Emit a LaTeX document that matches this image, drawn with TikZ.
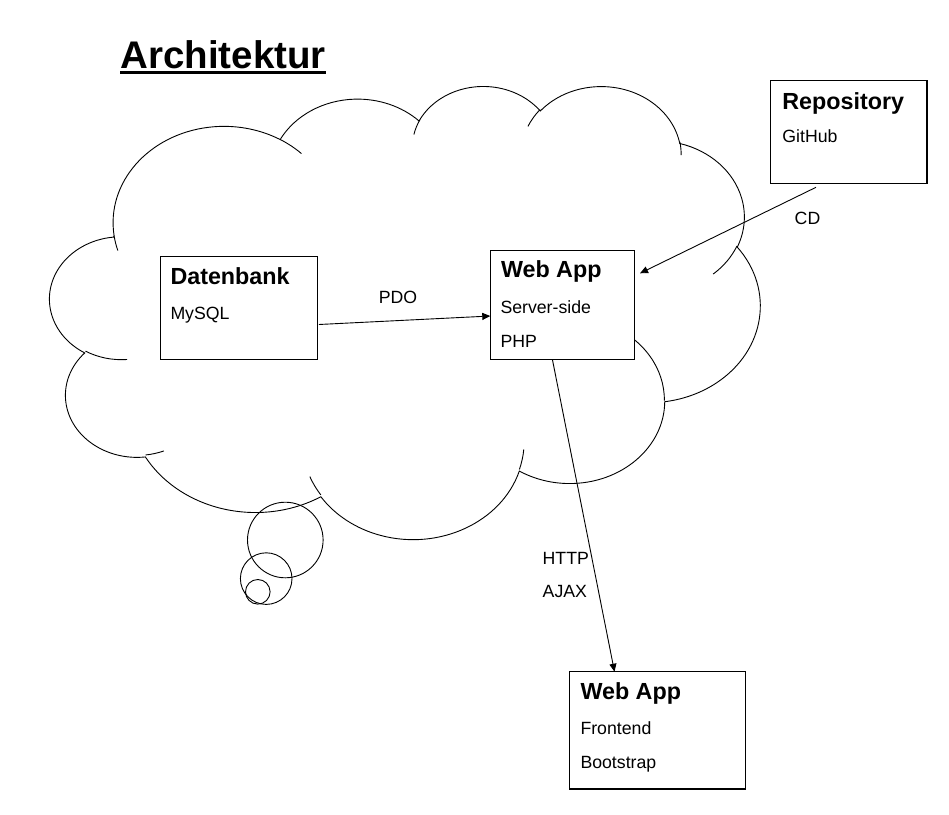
\documentclass[tikz,border=0pt]{standalone}
\usepackage{fontspec}
\setmainfont{Liberation Sans}
\usetikzlibrary{arrows.meta,calc}
% visual (OOXML) angle -> parametric ellipse angle
\newcommand\ooang[4]{\pgfmathsetmacro#1{#4+mod(atan2(#2*sin(#4),#3*cos(#4))-(#4)+1260,360)-180}}
\begin{document}
\begin{tikzpicture}[x=1pt,y=-1pt,
  cloudline/.style={draw=black,line width=0.9pt},
  box/.style={draw=black,line width=1.1pt,fill=white,anchor=north west,inner sep=0pt,outer sep=0pt},
  ttl/.style={anchor=base west,inner sep=0pt,font=\fontsize{23.3}{27}\selectfont\bfseries},
  txt/.style={anchor=base west,inner sep=0pt,font=\fontsize{17.7}{20}\selectfont},
  conn/.style={draw=black,line width=0.9pt,-{Triangle[length=8pt,width=7pt]}}]
\fill[white] (0,0) rectangle (949,814);
\useasboundingbox (0,0) rectangle (949,814);
% ---- cloud angles
\ooang\clAs{67.53}{91.90}{-190.4875}\ooang\clAe{67.53}{91.90}{-66.7070}
\ooang\clBs{53.33}{72.67}{-144.1024}\ooang\clBe{53.33}{72.67}{-54.1572}
\ooang\clCs{43.65}{59.45}{-145.8079}\ooang\clCe{43.65}{59.45}{-46.0849}
\ooang\clDs{48.57}{65.95}{-130.9861}\ooang\clDe{48.57}{65.95}{-13.7444}
\ooang\clEs{53.33}{72.73}{-78.7089}\ooang\clEe{53.33}{72.73}{30.3180}
\ooang\clFs{67.75}{92.20}{-46.2673}\ooang\clFe{67.75}{92.20}{84.0017}
\ooang\clGs{57.85}{78.67}{0.6250}\ooang\clGe{57.85}{78.67}{114.6583}
\ooang\clHs{67.52}{92.15}{22.4516}\ooang\clHe{67.52}{92.15}{137.6242}
\ooang\clIs{77.20}{105.43}{66.2426}\ooang\clIe{77.20}{105.43}{141.9536}
\ooang\clJs{43.60}{59.18}{-274.9421}\ooang\clJe{43.60}{59.18}{-128.2065}
\ooang\clKs{43.45}{59.45}{-246.8285}\ooang\clKe{43.45}{59.45}{-94.3096}
\ooang\hkAs{43.45}{59.45}{86.7420}\ooang\hkAe{43.45}{59.45}{113.1715}
\ooang\hkBs{43.60}{59.18}{73.6105}\ooang\hkBe{43.60}{59.18}{85.0580}
\ooang\hkCs{67.52}{92.15}{137.6242}\ooang\hkCe{67.52}{92.15}{151.7053}
\ooang\hkDs{67.52}{92.15}{6.4533}\ooang\hkDe{67.52}{92.15}{22.4517}
\ooang\hkEs{57.85}{78.67}{-70.2924}\ooang\hkEe{57.85}{78.67}{0.6250}
\ooang\hkFs{53.33}{72.73}{30.3180}\ooang\hkFe{53.33}{72.73}{58.0695}
\ooang\hkGs{48.57}{65.95}{-13.7443}\ooang\hkGe{48.57}{65.95}{1.1146}
\ooang\hkHs{48.57}{65.95}{-149.1815}\ooang\hkHe{48.57}{65.95}{-130.9861}
\ooang\hkIs{43.65}{59.45}{-163.4943}\ooang\hkIe{43.65}{59.45}{-145.8079}
\ooang\hkJs{67.53}{91.90}{-66.7070}\ooang\hkJe{67.53}{91.90}{-54.3876}
\ooang\hkKs{67.53}{91.90}{157.6544}\ooang\hkKe{67.53}{91.90}{169.5126}
% ---- cloud
\begin{scope}[shift={(50,85)},x=1.643519pt,y=-1.048611pt]
\draw[cloudline] (39.00,143.70)
  arc[x radius=67.53,y radius=91.90,start angle=\clAs,end angle=\clAe]
  arc[x radius=53.33,y radius=72.67,start angle=\clBs,end angle=\clBe]
  arc[x radius=43.65,y radius=59.45,start angle=\clCs,end angle=\clCe]
  arc[x radius=48.57,y radius=65.95,start angle=\clDs,end angle=\clDe]
  arc[x radius=53.33,y radius=72.73,start angle=\clEs,end angle=\clEe]
  arc[x radius=67.75,y radius=92.20,start angle=\clFs,end angle=\clFe]
  arc[x radius=57.85,y radius=78.67,start angle=\clGs,end angle=\clGe]
  arc[x radius=67.52,y radius=92.15,start angle=\clHs,end angle=\clHe]
  arc[x radius=77.20,y radius=105.43,start angle=\clIs,end angle=\clIe]
  arc[x radius=43.60,y radius=59.18,start angle=\clJs,end angle=\clJe]
  arc[x radius=43.45,y radius=59.45,start angle=\clKs,end angle=\clKe] -- cycle;
\draw[cloudline]
  (46.93,261.77) arc[x radius=43.45,y radius=59.45,start angle=\hkAs,end angle=\hkAe]
  (69.28,348.99) arc[x radius=43.60,y radius=59.18,start angle=\hkBs,end angle=\hkBe]
  (164.78,390.90) arc[x radius=67.52,y radius=92.15,start angle=\hkCs,end angle=\hkCe]
  (288.27,347.51) arc[x radius=67.52,y radius=92.15,start angle=\hkDs,end angle=\hkDe]
  (341.29,229.54) arc[x radius=57.85,y radius=78.67,start angle=\hkEs,end angle=\hkEe]
  (417.98,153.54) arc[x radius=53.33,y radius=72.73,start angle=\hkFs,end angle=\hkFe]
  (383.24,54.26) arc[x radius=48.57,y radius=65.95,start angle=\hkGs,end angle=\hkGe]
  (290.78,39.52) arc[x radius=48.57,y radius=65.95,start angle=\hkHs,end angle=\hkHe]
  (221.41,47.20) arc[x radius=43.65,y radius=59.45,start angle=\hkIs,end angle=\hkIe]
  (140.00,51.92) arc[x radius=67.53,y radius=91.90,start angle=\hkJs,end angle=\hkJe]
  (41.27,157.89) arc[x radius=67.53,y radius=91.90,start angle=\hkKs,end angle=\hkKe];
\end{scope}
% ---- thought bubbles
\draw[cloudline] (285.3,540) circle[radius=37.8];
\draw[cloudline] (266.2,578.6) circle[radius=25.8];
\draw[cloudline] (257.8,591.8) circle[radius=12.3];
% ---- title
\node[anchor=base west,inner sep=0pt,font=\fontsize{38.5}{44}\selectfont\bfseries] (title) at (120.3,68.5) {Architektur};
\draw[line width=2.9pt] ([yshift=-4.2pt]title.base west) -- ([yshift=-4.2pt]title.base east);
% ---- boxes
\node[box,minimum width=157pt,minimum height=102.6pt] (db) at (160.3,256.7) {};
\node[ttl] (dbT) at ([shift={(10,27.5)}]db.north west) {Datenbank};
\node[txt] (dbA) at ([shift={(10,63)}]db.north west) {MySQL};
\node[box,minimum width=144pt,minimum height=109pt] (srv) at (490.3,250.3) {};
\node[ttl] (srvT) at ([shift={(10.5,27.5)}]srv.north west) {Web App};
\node[txt] (srvA) at ([shift={(10,63)}]srv.north west) {Server-side};
\node[txt] (srvB) at ([shift={(10,97)}]srv.north west) {PHP};
\node[box,minimum width=156.3pt,minimum height=102.6pt] (repo) at (770.7,80.7) {};
\node[ttl] (repoT) at ([shift={(11.5,28.3)}]repo.north west) {Repository};
\node[txt] (repoA) at ([shift={(11.5,62)}]repo.north west) {GitHub};
\node[box,minimum width=176pt,minimum height=117.3pt] (fe) at (569.3,671.7) {};
\node[ttl] (feT) at ([shift={(11,27.5)}]fe.north west) {Web App};
\node[txt] (feA) at ([shift={(11,63)}]fe.north west) {Frontend};
\node[txt] (feB) at ([shift={(11,97)}]fe.north west) {Bootstrap};
% ---- connectors
\draw[conn] ([shift={(1.5,16.5)}]db.east) -- ([shift={(0,11.2)}]srv.west);
\draw[conn] ([shift={(-32.85,4)}]repo.south) -- ([shift={(5.7,23)}]srv.north east);
\draw[conn] ([shift={(-9.8,0.7)}]srv.south) -- ([shift={(-42.8,0)}]fe.north);
% ---- labels
\node[txt,anchor=base] (pdo) at (398,303.3) {PDO};
\node[txt,anchor=base] (cd) at (807.5,224.3) {CD};
\node[txt] (http) at (542.5,564.5) {HTTP};
\node[txt] (ajax) at (542.5,597.5) {AJAX};
\end{tikzpicture}
\end{document}
